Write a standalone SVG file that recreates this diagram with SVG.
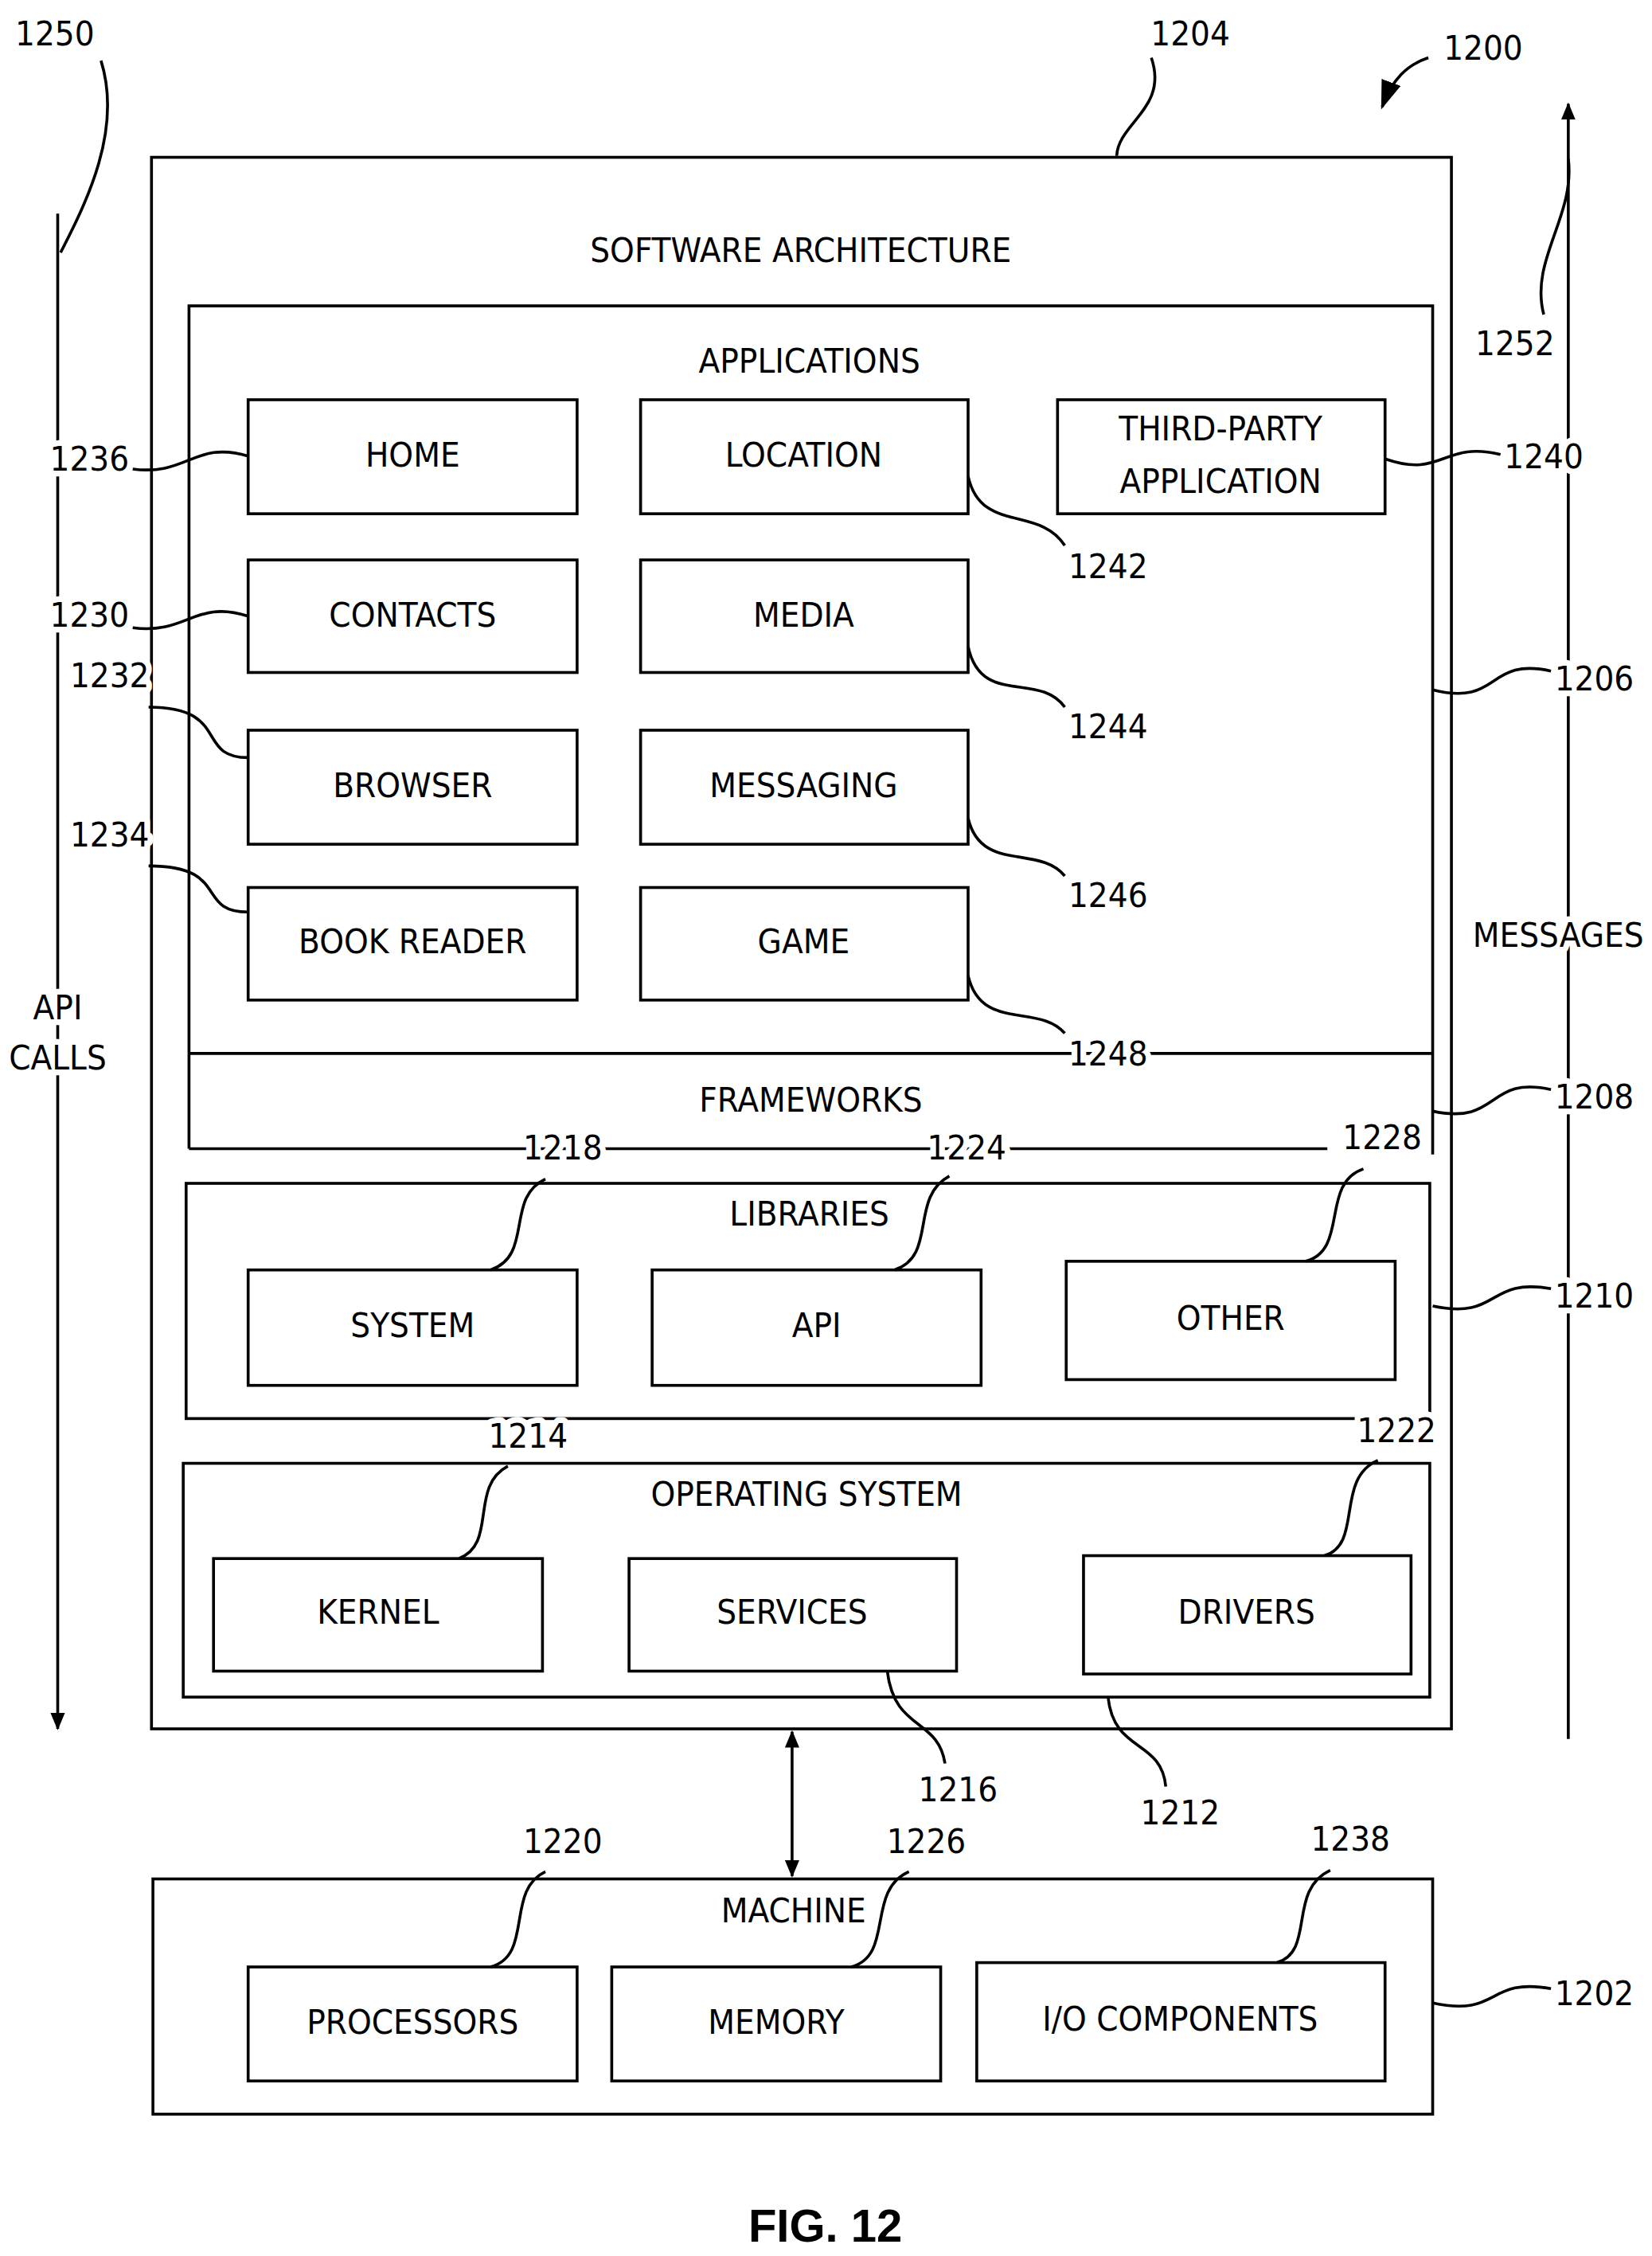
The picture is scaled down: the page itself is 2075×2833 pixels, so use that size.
<svg xmlns="http://www.w3.org/2000/svg" width="2075" height="2833" viewBox="0 0 2075 2833">
<style>
rect.b{fill:none;stroke:#000;stroke-width:2}
.l{fill:none;stroke:#000;stroke-width:2}
text{font-family:"Liberation Sans Narrow","DejaVu Sans Condensed","Liberation Sans",sans-serif;font-stretch:condensed;font-size:24px;fill:#000;text-anchor:middle;dominant-baseline:middle}
#labels text{stroke:#fff;stroke-width:8px;paint-order:stroke;stroke-linejoin:round}
</style>
<defs>
<marker id="ah" markerWidth="12" markerHeight="10" refX="11" refY="5" orient="auto-start-reverse" markerUnits="userSpaceOnUse"><path d="M0,0 L12,5 L0,10 z" fill="#000"/></marker>
<marker id="ah2" markerWidth="20" markerHeight="14" refX="18" refY="7" orient="auto" markerUnits="userSpaceOnUse"><path d="M0,0 L20,7 L0,14 z" fill="#000"/></marker>
</defs>
<rect width="2075" height="2833" fill="#fff"/>
<g transform="scale(1.8122)">
<g id="software">
<rect class="b" x="105" y="109" width="901" height="1089"/>
<text x="555" y="175">SOFTWARE ARCHITECTURE</text>
</g>
<g id="applications">
<path class="l" d="M131,796 V212 H993 V800 M131,730 H993 M131,796 H920"/>
<text x="561" y="252">APPLICATIONS</text>
<text x="562" y="764">FRAMEWORKS</text>
</g>
<g id="home"><rect class="b" x="172" y="277" width="228" height="79"/><text x="286" y="317">HOME</text></g>
<g id="location"><rect class="b" x="444" y="277" width="227" height="79"/><text x="557" y="317">LOCATION</text></g>
<g id="thirdparty"><rect class="b" x="733" y="277" width="227" height="79"/><text x="846" y="299">THIRD-PARTY</text><text x="846" y="335">APPLICATION</text></g>
<g id="contacts"><rect class="b" x="172" y="388" width="228" height="78"/><text x="286" y="428">CONTACTS</text></g>
<g id="media"><rect class="b" x="444" y="388" width="227" height="78"/><text x="557" y="428">MEDIA</text></g>
<g id="browser"><rect class="b" x="172" y="506" width="228" height="79"/><text x="286" y="546">BROWSER</text></g>
<g id="messaging"><rect class="b" x="444" y="506" width="227" height="79"/><text x="557" y="546">MESSAGING</text></g>
<g id="bookreader"><rect class="b" x="172" y="615" width="228" height="78"/><text x="286" y="654">BOOK READER</text></g>
<g id="game"><rect class="b" x="444" y="615" width="227" height="78"/><text x="557" y="654">GAME</text></g>
<g id="libraries">
<rect class="b" x="129" y="820" width="862" height="163"/>
<text x="561" y="843">LIBRARIES</text>
</g>
<g id="system"><rect class="b" x="172" y="880" width="228" height="80"/><text x="286" y="920">SYSTEM</text></g>
<g id="api"><rect class="b" x="452" y="880" width="228" height="80"/><text x="566" y="920">API</text></g>
<g id="other"><rect class="b" x="739" y="874" width="228" height="82"/><text x="853" y="915">OTHER</text></g>
<g id="os">
<rect class="b" x="127" y="1014" width="864" height="162"/>
<text x="559" y="1037">OPERATING SYSTEM</text>
</g>
<g id="kernel"><rect class="b" x="148" y="1080" width="228" height="78"/><text x="262" y="1119">KERNEL</text></g>
<g id="services"><rect class="b" x="436" y="1080" width="227" height="78"/><text x="549" y="1119">SERVICES</text></g>
<g id="drivers"><rect class="b" x="751" y="1078" width="227" height="82"/><text x="864" y="1119">DRIVERS</text></g>
<g id="machine">
<rect class="b" x="106" y="1302" width="887" height="163"/>
<text x="550" y="1326">MACHINE</text>
</g>
<g id="processors"><rect class="b" x="172" y="1363" width="228" height="79"/><text x="286" y="1403">PROCESSORS</text></g>
<g id="memory"><rect class="b" x="424" y="1363" width="228" height="79"/><text x="538" y="1403">MEMORY</text></g>
<g id="io"><rect class="b" x="677" y="1360" width="283" height="82"/><text x="818" y="1401">I/O COMPONENTS</text></g>
<g id="connectors">
<path class="l" d="M549,1200 V1300" marker-start="url(#ah)" marker-end="url(#ah)"/>
<path class="l" d="M40,148 V1198" marker-end="url(#ah)"/>
<path class="l" d="M1087,1205 V72" marker-end="url(#ah)"/>
<path class="l" d="M990,40 C975,45 965,55 958,74" marker-end="url(#ah2)"/>
<path class="l" d="M70,42 C85,90 60,140 42,175"/>
<path class="l" d="M1070,218 C1060,180 1092,150 1087,110"/>
<path class="l" d="M798,40 C810,75 775,85 774,108"/>
<path class="l" d="M92,325 C130,330 135,305 172,316"/>
<path class="l" d="M92,435 C130,440 135,415 172,427"/>
<path class="l" d="M103,490 C160,490 135,525 172,525"/>
<path class="l" d="M103,600 C160,600 135,632 172,632"/>
<path class="l" d="M671,330 C680,370 720,350 738,378"/>
<path class="l" d="M671,448 C680,490 720,465 738,490"/>
<path class="l" d="M671,567 C680,605 720,585 738,607"/>
<path class="l" d="M671,676 C680,715 720,695 738,716"/>
<path class="l" d="M960,318 C1000,332 1000,305 1040,315"/>
<path class="l" d="M993,478 C1040,490 1030,455 1075,465"/>
<path class="l" d="M993,770 C1040,780 1030,745 1075,755"/>
<path class="l" d="M993,905 C1040,915 1030,885 1075,893"/>
<path class="l" d="M993,1388 C1040,1398 1030,1370 1075,1378"/>
<path class="l" d="M378,817 C350,830 370,870 340,880"/>
<path class="l" d="M658,815 C630,830 650,870 620,880"/>
<path class="l" d="M945,810 C915,820 935,866 905,874"/>
<path class="l" d="M352,1016 C325,1030 345,1070 318,1080"/>
<path class="l" d="M955,1012 C925,1025 945,1070 918,1078"/>
<path class="l" d="M615,1158 C620,1200 650,1190 655,1222"/>
<path class="l" d="M768,1176 C772,1215 805,1205 808,1238"/>
<path class="l" d="M378,1297 C350,1310 370,1355 340,1363"/>
<path class="l" d="M630,1297 C600,1310 620,1355 590,1363"/>
<path class="l" d="M922,1296 C892,1310 912,1352 885,1360"/>
</g>
<g id="labels">
<text x="38" y="25">1250</text>
<text x="825" y="25">1204</text>
<text x="1028" y="35">1200</text>
<text x="1050" y="240">1252</text>
<text x="40" y="700">API</text>
<text x="40" y="735">CALLS</text>
<text x="1080" y="650">MESSAGES</text>
<text x="62" y="320">1236</text>
<text x="62" y="428">1230</text>
<text x="76" y="470">1232</text>
<text x="76" y="580">1234</text>
<text x="768" y="394">1242</text>
<text x="768" y="505">1244</text>
<text x="768" y="622">1246</text>
<text x="768" y="732">1248</text>
<text x="1070" y="318">1240</text>
<text x="1105" y="472">1206</text>
<text x="1105" y="762">1208</text>
<text x="1105" y="900">1210</text>
<text x="1105" y="1383">1202</text>
<text x="390" y="797">1218</text>
<text x="670" y="797">1224</text>
<text x="958" y="790">1228</text>
<text x="366" y="997">1214</text>
<text x="968" y="993">1222</text>
<text x="664" y="1242">1216</text>
<text x="818" y="1258">1212</text>
<text x="390" y="1278">1220</text>
<text x="642" y="1278">1226</text>
<text x="936" y="1276">1238</text>
<text x="572" y="1545" style="font-family:'Liberation Sans',sans-serif;font-stretch:normal;font-weight:bold;font-size:32px;stroke:none">FIG. 12</text>
</g>
</g>
</svg>
